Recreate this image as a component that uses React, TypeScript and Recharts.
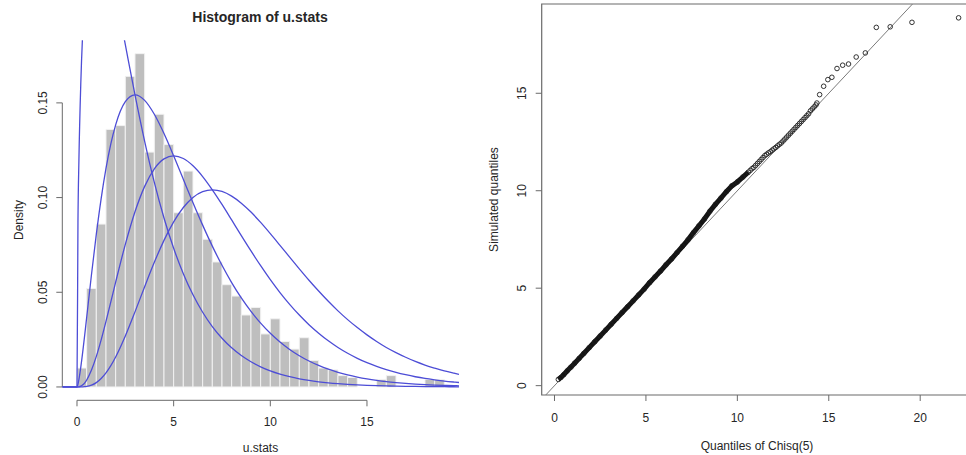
import React from 'react';
import {
  ComposedChart,
  Line,
  Scatter,
  XAxis,
  YAxis,
  ReferenceArea,
  ReferenceLine,
} from 'recharts';

const FONT = '"Liberation Sans", Arial, Helvetica, sans-serif';
const TEXT = '#262626';
const AXIS = '#6a6a6a';
const CURVE = '#4d4dd6';

// histogram of u.stats: bin edges and density of each bin
const binEdges = [
  0, 0.5, 1, 1.5, 2, 2.5, 3, 3.5, 4, 4.5, 5, 5.5, 6, 6.5, 7, 7.5, 8, 8.5, 9, 9.5,
  10, 10.5, 11, 11.5, 12, 12.5, 13, 13.5, 14, 14.5, 15, 15.5, 16, 16.5, 17, 17.5,
  18, 18.5, 19,
];
const binDensity = [
  0.010, 0.052, 0.086, 0.136, 0.138, 0.164, 0.176, 0.124, 0.144, 0.128,
  0.092, 0.114, 0.092, 0.078, 0.066, 0.054, 0.048, 0.038, 0.042, 0.028,
  0.036, 0.024, 0.020, 0.026, 0.014, 0.010, 0.009, 0.006, 0.005, 0,
  0, 0.004, 0.006, 0, 0, 0, 0.004, 0.004,
];

// chi-square density curves (df = 3, 5, 7, 9)
const curveX = [
  -0.76, 0, 0.05, 0.1, 0.2, 0.3, 0.4, 0.5, 0.75, 1, 1.25, 1.5, 1.75, 2,
  2.5, 3, 3.5, 4, 4.5, 5, 5.5, 6, 6.5, 7, 7.5, 8, 8.5, 9, 9.5, 10, 10.5, 11,
  11.5, 12, 12.5, 13, 13.5, 14, 14.5, 15, 15.5, 16, 16.5, 17, 17.5, 18, 18.5,
  19, 19.5, 19.76,
];
const dens3 = [
  0, 0, 0.087, 0.12001, 0.16143, 0.18807, 0.20658, 0.2197, 0.23746, 0.24197,
  0.23874, 0.2308, 0.22, 0.20755, 0.18072, 0.15418, 0.1297, 0.10798, 0.0892,
  0.07322, 0.05981, 0.04865, 0.03944, 0.03187, 0.0257, 0.02067, 0.01659, 0.0133,
  0.010638, 0.0085, 0.006784, 0.005407, 0.004306, 0.003426, 0.002723, 0.002163,
  0.001716, 0.001361, 0.001079, 0.000855, 0.000677, 0.000535, 0.000423,
  0.000335, 0.000264, 0.000209, 0.000165, 0.00013, 0.000103, 0.0000908,
];
const dens5 = [
  0, 0, 0.00145, 0.004, 0.01076, 0.01881, 0.02754, 0.03662, 0.05937, 0.08066,
  0.09948, 0.1154, 0.12833, 0.13837, 0.1506, 0.15418, 0.15132, 0.14397, 0.1338,
  0.12203, 0.10965, 0.0973, 0.08545, 0.07436, 0.06425, 0.05512, 0.04701, 0.0399,
  0.03369, 0.02833, 0.02374, 0.01983, 0.01651, 0.0137, 0.01135, 0.00937,
  0.00772, 0.00635, 0.00522, 0.00428, 0.0035, 0.00285, 0.00233, 0.0019,
  0.00154, 0.00125, 0.00102, 0.00082, 0.00067, 0.0006,
];
const dens7 = [
  0, 0, 0.00001, 0.00008, 0.00043, 0.00113, 0.0022, 0.00366, 0.00891, 0.01613,
  0.02487, 0.03462, 0.04492, 0.05535, 0.0753, 0.09251, 0.10592, 0.11518,
  0.12042, 0.12203, 0.12062, 0.11676, 0.11109, 0.1041, 0.09638, 0.08819,
  0.07992, 0.07182, 0.06401, 0.05666, 0.04985, 0.04363, 0.03797, 0.03288,
  0.02838, 0.02436, 0.02084, 0.01778, 0.01514, 0.01284, 0.01085, 0.00912,
  0.00769, 0.00646, 0.00539, 0.0045, 0.00377, 0.00312, 0.00261, 0.00237,
];
const dens9 = [
  0, 0, 0, 0.000001, 0.000012, 0.000048, 0.000126, 0.000261, 0.000955,
  0.002304, 0.004441, 0.007419, 0.01123, 0.01581, 0.02689, 0.03965, 0.05296,
  0.06582, 0.07741, 0.08716, 0.09477, 0.10008, 0.10315, 0.1041, 0.10326,
  0.10079, 0.09705, 0.09234, 0.08687, 0.08094, 0.07478, 0.06856, 0.06238,
  0.05637, 0.05068, 0.04524, 0.04019, 0.03556, 0.03136, 0.02751, 0.02403,
  0.02085, 0.01813, 0.01569, 0.01348, 0.01157, 0.00996, 0.00847, 0.00727,
  0.00669,
];

// QQ plot: Chisq(5) quantiles vs simulated quantiles
const qqTheoretical = [
  0.21, 0.35, 0.5, 0.7, 0.9, 1.1, 1.35, 1.6, 1.9, 2.2, 2.5, 2.8, 3.1, 3.4, 3.7,
  4.0, 4.3, 4.6, 4.9, 5.2, 5.5, 5.8, 6.1, 6.4, 6.7, 7.0, 7.3, 7.6, 7.9, 8.2,
  8.5, 8.8, 9.1, 9.4, 9.7, 10.0, 10.3, 10.6,
  10.7, 10.8, 10.9, 11.0, 11.1, 11.2, 11.3, 11.4, 11.5, 11.6, 11.7, 11.8, 11.9,
  12.0, 12.1, 12.2, 12.3, 12.4, 12.5, 12.6, 12.7, 12.8, 12.9, 13.0, 13.1, 13.2,
  13.3, 13.4, 13.5, 13.6, 13.7, 13.8, 13.9, 14.0, 14.1, 14.2, 14.3, 14.35,
  14.5, 14.72, 14.95, 15.17, 15.45, 15.76, 16.08, 16.5, 17.0, 17.6, 18.36,
  19.55, 22.1,
];
const qqSimulated = [
  0.32, 0.42, 0.56, 0.76, 0.95, 1.15, 1.4, 1.65, 1.95, 2.25, 2.55, 2.85, 3.15,
  3.45, 3.75, 4.05, 4.35, 4.65, 4.95, 5.28, 5.58, 5.88, 6.2, 6.5, 6.82, 7.15,
  7.48, 7.85, 8.2, 8.55, 8.95, 9.3, 9.62, 9.95, 10.25, 10.45, 10.7, 10.95,
  11.04, 11.13, 11.2, 11.3, 11.4, 11.5, 11.6, 11.7, 11.8, 11.87, 11.94, 12.0,
  12.08, 12.15, 12.22, 12.3, 12.38, 12.45, 12.55, 12.65, 12.75, 12.85, 12.95,
  13.05, 13.15, 13.25, 13.35, 13.45, 13.55, 13.65, 13.75, 13.85, 13.95, 14.1,
  14.2, 14.3, 14.4, 14.5, 14.93, 15.36, 15.7, 15.82, 16.27, 16.44, 16.5, 16.86,
  17.07, 18.38, 18.41, 18.64, 18.87,
];
const qqDenseUpTo = 10.6;

const histTicksX = [0, 5, 10, 15];
const histTicksY = [0, 0.05, 0.1, 0.15];
const qqTicksX = [0, 5, 10, 15, 20];
const qqTicksY = [0, 5, 10, 15];

const HIST_X = [-0.76, 19.76];
const HIST_Y = [-0.00704, 0.18304];
const QQ_X = [-0.7, 22.97];
const QQ_Y = [-0.48, 19.58];

const RotatedTick = (props: any) => {
  const { x, y, payload, digits } = props;
  const tx = x - 7.5;
  const label = digits ? Number(payload.value).toFixed(digits) : String(payload.value);
  return (
    <text
      x={tx}
      y={y}
      transform={`rotate(-90 ${tx} ${y})`}
      textAnchor="middle"
      fontSize={12}
      fontFamily={FONT}
      fill={TEXT}
    >
      {label}
    </text>
  );
};

const QQPoint = (props: any) => (
  <circle cx={props.cx} cy={props.cy} r={2.3} fill="none" stroke="#1e1e1e" strokeWidth={0.9} />
);

const xTick = { fontSize: 12, fill: TEXT, fontFamily: FONT };

const Histogram = () => {
  const rows = curveX.map((x, i) => ({ x, d3: dens3[i], d5: dens5[i], d7: dens7[i], d9: dens9[i] }));
  return (
    <ComposedChart width={480} height={455} data={rows} margin={{ top: 40.3, right: 21, bottom: 0, left: 0 }}>
      <XAxis
        dataKey="x"
        type="number"
        domain={HIST_X}
        allowDataOverflow
        ticks={histTicksX}
        height={54.7}
        axisLine={false}
        tickLine={{ stroke: AXIS }}
        tickSize={6}
        tickMargin={11}
        tick={xTick}
      />
      <YAxis
        type="number"
        domain={HIST_Y}
        allowDataOverflow
        ticks={histTicksY}
        width={62.3}
        axisLine={false}
        tickLine={{ stroke: AXIS }}
        tickSize={6}
        tick={(p: any) => <RotatedTick {...p} digits={2} />}
      />
      {binDensity.map((d, i) =>
        d > 0 ? (
          <ReferenceArea
            key={i}
            x1={binEdges[i]}
            x2={binEdges[i + 1]}
            y1={0}
            y2={d}
            fill="#bebebe"
            fillOpacity={1}
            stroke="#f2f2f2"
            strokeWidth={1}
            ifOverflow="visible"
          />
        ) : null,
      )}
      <ReferenceLine
        segment={[{ x: histTicksX[0], y: HIST_Y[0] }, { x: histTicksX[histTicksX.length - 1], y: HIST_Y[0] }]}
        stroke={AXIS}
        ifOverflow="visible"
      />
      <ReferenceLine
        segment={[{ x: HIST_X[0], y: histTicksY[0] }, { x: HIST_X[0], y: histTicksY[histTicksY.length - 1] }]}
        stroke={AXIS}
        ifOverflow="visible"
      />
      {['d3', 'd5', 'd7', 'd9'].map((k) => (
        <Line
          key={k}
          dataKey={k}
          type="monotone"
          stroke={CURVE}
          strokeWidth={1.3}
          dot={false}
          activeDot={false}
          isAnimationActive={false}
        />
      ))}
    </ComposedChart>
  );
};

const QQPlot = () => {
  const points = qqTheoretical.map((theo, i) => ({ theo, sim: qqSimulated[i] }));
  const dense = points.filter((p) => p.theo <= qqDenseUpTo);
  return (
    <ComposedChart width={500} height={455} margin={{ top: 4, right: 5.5, bottom: 0, left: 0 }}>
      <XAxis
        dataKey="theo"
        type="number"
        domain={QQ_X}
        allowDataOverflow
        ticks={qqTicksX}
        height={60}
        axisLine={false}
        tickLine={{ stroke: AXIS }}
        tickSize={6}
        tickMargin={12.5}
        tick={xTick}
      />
      <YAxis
        dataKey="sim"
        type="number"
        domain={QQ_Y}
        allowDataOverflow
        ticks={qqTicksY}
        width={61.7}
        axisLine={false}
        tickLine={{ stroke: AXIS }}
        tickSize={6}
        tick={(p: any) => <RotatedTick {...p} digits={0} />}
      />
      <ReferenceArea
        x1={QQ_X[0]}
        x2={QQ_X[1]}
        y1={QQ_Y[0]}
        y2={QQ_Y[1]}
        fill="none"
        fillOpacity={0}
        stroke={AXIS}
        strokeWidth={1.2}
        ifOverflow="visible"
      />
      <ReferenceLine
        segment={[{ x: QQ_Y[0], y: QQ_Y[0] }, { x: QQ_Y[1], y: QQ_Y[1] }]}
        stroke="#7a7a7a"
        strokeWidth={1}
        ifOverflow="visible"
      />
      <Line
        data={dense}
        dataKey="sim"
        type="linear"
        stroke="#141414"
        strokeWidth={5}
        dot={false}
        activeDot={false}
        isAnimationActive={false}
      />
      <Scatter data={points} dataKey="sim" shape={<QQPoint />} isAnimationActive={false} />
    </ComposedChart>
  );
};

export default function App() {
  return (
    <div style={{ position: 'relative', width: 966, height: 455, overflow: 'hidden', background: '#fff' }}>
      <style>{'body{margin:0;overflow:hidden;}'}</style>
      <div style={{ position: 'absolute', left: 0, top: 0 }}>
        <Histogram />
      </div>
      <div style={{ position: 'absolute', left: 480, top: 0 }}>
        <QQPlot />
      </div>
      <svg
        width={966}
        height={455}
        style={{ position: 'absolute', left: 0, top: 0, pointerEvents: 'none' }}
        fontFamily={FONT}
        fill={TEXT}
      >
        <text x={260} y={22} textAnchor="middle" fontSize={14} fontWeight="bold">
          Histogram of u.stats
        </text>
        <text x={260.5} y={451.5} textAnchor="middle" fontSize={12}>
          u.stats
        </text>
        <text x={22.5} y={220} transform="rotate(-90 22.5 220)" textAnchor="middle" fontSize={12}>
          Density
        </text>
        <text x={757} y={450} textAnchor="middle" fontSize={12}>
          Quantiles of Chisq(5)
        </text>
        <text x={498} y={199.5} transform="rotate(-90 498 199.5)" textAnchor="middle" fontSize={12}>
          Simulated quantiles
        </text>
      </svg>
    </div>
  );
}
